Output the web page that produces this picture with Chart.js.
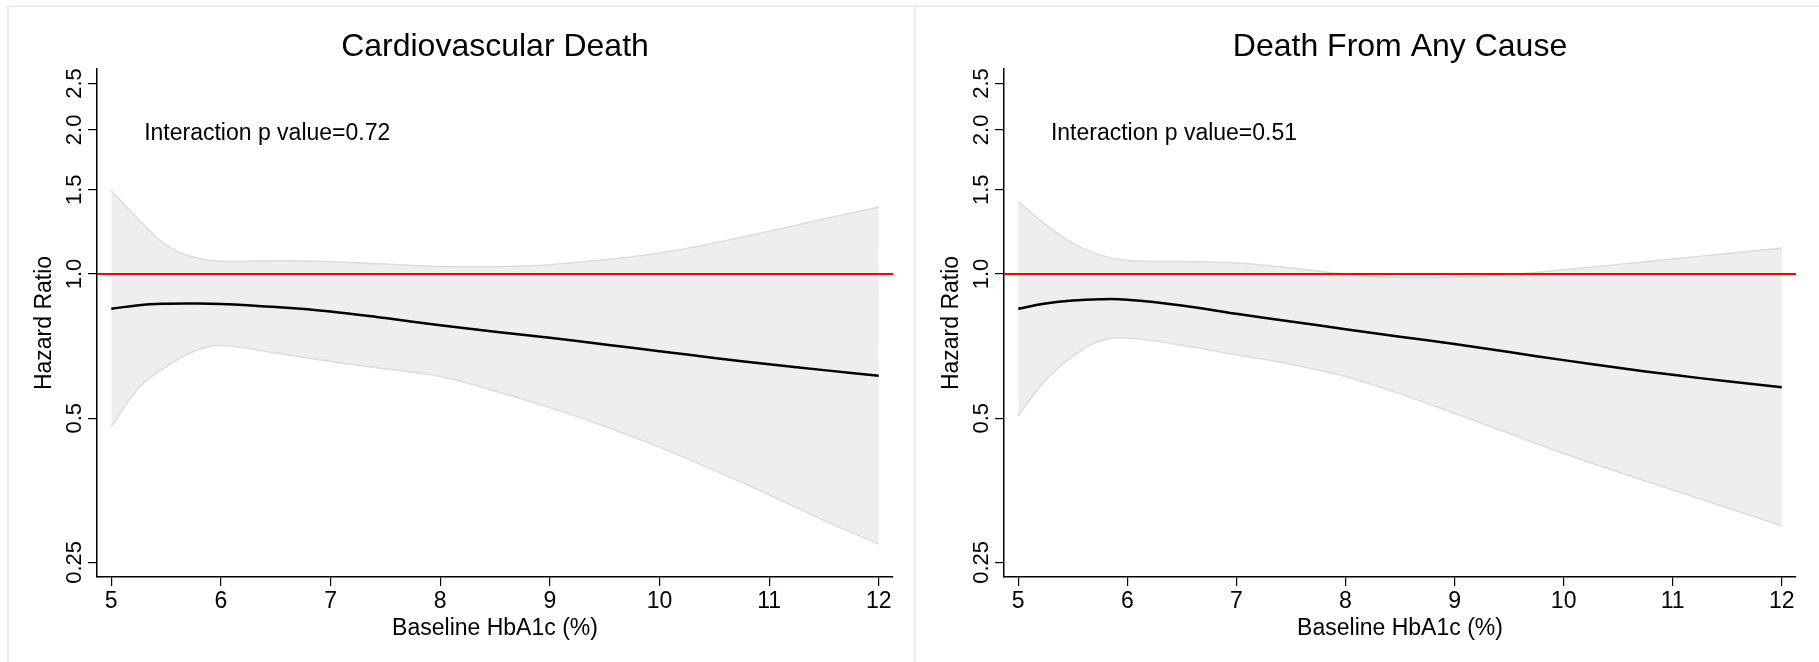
<!DOCTYPE html>
<html>
<head>
<meta charset="utf-8">
<script src="https://cdn.jsdelivr.net/npm/chart.js@4.4.0/dist/chart.umd.min.js"></script>
<style>
  body { margin: 0; background: #fff; width: 1819px; height: 662px; overflow: hidden; position: relative; }
  .frame { position: absolute; top: 5px; height: 700px; width: 905px; border-top: 2px solid #e8eef1; border-left: 2px solid #e8eef1; }
  .box { position: absolute; top: 0; width: 905px; height: 662px; }
</style>
</head>
<body>
<div class="frame" style="left:7px"></div>
<div class="frame" style="left:914px"></div>
<div class="box" style="left:0"><canvas id="cv" width="905" height="662"></canvas></div>
<div class="box" style="left:907px"><canvas id="all" width="905" height="662"></canvas></div>
<script>
// eixos
const xMin = 4.87, xMax = 12.13
const yMin = 0.233, yMax = 2.68
const xTicks = [5, 6, 7, 8, 9, 10, 11, 12]
const yTicks = [0.25, 0.5, 1, 1.5, 2, 2.5]
const yTickLabels = ['0.25', '0.5', '1.0', '1.5', '2.0', '2.5']
const refValue = 1

// HbA1c basal (%)
const hba1c = [5, 5.25, 5.5, 5.75, 6, 6.5, 7, 7.5, 8, 8.5, 9, 9.5, 10, 10.5, 11, 11.5, 12]

// Cardiovascular Death
const cvHR    = [0.846, 0.861, 0.867, 0.868, 0.866, 0.853, 0.835, 0.809, 0.782, 0.758, 0.736, 0.713, 0.690, 0.668, 0.648, 0.630, 0.613]
const cvUpper = [1.493, 1.300, 1.150, 1.085, 1.063, 1.066, 1.061, 1.049, 1.037, 1.036, 1.046, 1.071, 1.106, 1.161, 1.228, 1.303, 1.380]
const cvLower = [0.480, 0.578, 0.641, 0.689, 0.709, 0.684, 0.657, 0.634, 0.611, 0.570, 0.526, 0.481, 0.435, 0.389, 0.346, 0.306, 0.273]

// Death From Any Cause
const allHR    = [0.846, 0.868, 0.881, 0.886, 0.884, 0.860, 0.826, 0.796, 0.767, 0.740, 0.714, 0.687, 0.661, 0.637, 0.616, 0.597, 0.580]
const allUpper = [1.418, 1.270, 1.160, 1.095, 1.067, 1.062, 1.054, 1.030, 1.000, 0.983, 0.985, 0.998, 1.021, 1.047, 1.075, 1.104, 1.133]
const allLower = [0.506, 0.600, 0.673, 0.725, 0.735, 0.710, 0.678, 0.648, 0.611, 0.562, 0.512, 0.465, 0.422, 0.386, 0.354, 0.325, 0.298]

const fonte = '"Liberation Sans", Arial, Helvetica, sans-serif'

// titulo e texto do p valor
const textoPainel = {
    id: 'textoPainel',
    afterDraw(chart, args, opts) {
        const { ctx, chartArea, scales } = chart
        ctx.save()
        ctx.fillStyle = '#000'
        ctx.textBaseline = 'middle'
        ctx.font = '32px ' + fonte
        ctx.textAlign = 'center'
        ctx.fillText(opts.title, (chartArea.left + chartArea.right) / 2, opts.titleY)
        ctx.font = '23px ' + fonte
        ctx.textAlign = 'left'
        ctx.fillText(opts.note, scales.x.getPixelForValue(opts.noteX), scales.y.getPixelForValue(opts.noteY))
        ctx.restore()
    }
}

function pontos(valores) {
    return hba1c.map((x, i) => ({ x: x, y: valores[i] }))
}

function criarGrafico(id, titulo, pValor, hr, sup, inf, padDir) {
    const ctx = document.getElementById(id).getContext('2d')
    return new Chart(ctx, {
        type: 'line',
        data: {
            datasets: [
                { data: pontos(hr), borderColor: '#000', borderWidth: 2.5, pointRadius: 0, fill: false, tension: 0.4 },
                { data: [{ x: xMin, y: refValue }, { x: xMax, y: refValue }], borderColor: '#ff0000', borderWidth: 2, pointRadius: 0, fill: false },
                { data: pontos(sup), borderColor: '#dcdcdc', borderWidth: 1.5, backgroundColor: '#eeeeee', pointRadius: 0, fill: '+1', tension: 0.4 },
                { data: pontos(inf), borderColor: '#dcdcdc', borderWidth: 1.5, pointRadius: 0, fill: false, tension: 0.4 }
            ]
        },
        options: {
            responsive: false,
            animation: false,
            devicePixelRatio: 1,
            layout: { padding: { top: 69, right: padDir, left: 0, bottom: 0 } },
            plugins: {
                legend: { display: false },
                tooltip: { enabled: false },
                filler: { drawTime: 'beforeDatasetsDraw' },
                textoPainel: { title: titulo, titleY: 47, note: 'Interaction p value=' + pValor, noteX: 5.3, noteY: 1.96 }
            },
            scales: {
                x: {
                    type: 'linear', min: xMin, max: xMax, bounds: 'data',
                    afterBuildTicks: s => { s.ticks = xTicks.map(v => ({ value: v })) },
                    afterFit: s => { s.height = 85 },
                    grid: { drawOnChartArea: false, drawTicks: true, tickLength: 9, color: '#000', lineWidth: 1.2 },
                    border: { display: true, color: '#000', width: 1.5 },
                    ticks: { color: '#000', font: { family: fonte, size: 23 }, padding: 2, maxRotation: 0, autoSkip: false },
                    title: { display: true, text: 'Baseline HbA1c (%)', color: '#000', font: { family: fonte, size: 23 }, padding: { top: 0, bottom: 20 } }
                },
                y: {
                    type: 'logarithmic', min: yMin, max: yMax, bounds: 'data',
                    afterBuildTicks: s => { s.ticks = yTicks.map(v => ({ value: v })) },
                    afterFit: s => { s.width = 97 },
                    grid: { drawOnChartArea: false, drawTicks: true, tickLength: 9, color: '#000', lineWidth: 1.2 },
                    border: { display: true, color: '#000', width: 1.5 },
                    ticks: {
                        color: '#000', font: { family: fonte, size: 22 },
                        minRotation: 90, maxRotation: 90, crossAlign: 'center', padding: -8, autoSkip: false,
                        callback: (v, i) => yTickLabels[i]
                    },
                    title: { display: true, text: 'Hazard Ratio', color: '#000', font: { family: fonte, size: 23 }, padding: { top: 31, bottom: 0 } }
                }
            }
        },
        plugins: [textoPainel]
    })
}

criarGrafico('cv', 'Cardiovascular Death', '0.72', cvHR, cvUpper, cvLower, 12)
criarGrafico('all', 'Death From Any Cause', '0.51', allHR, allUpper, allLower, 16)
</script>
</body>
</html>
